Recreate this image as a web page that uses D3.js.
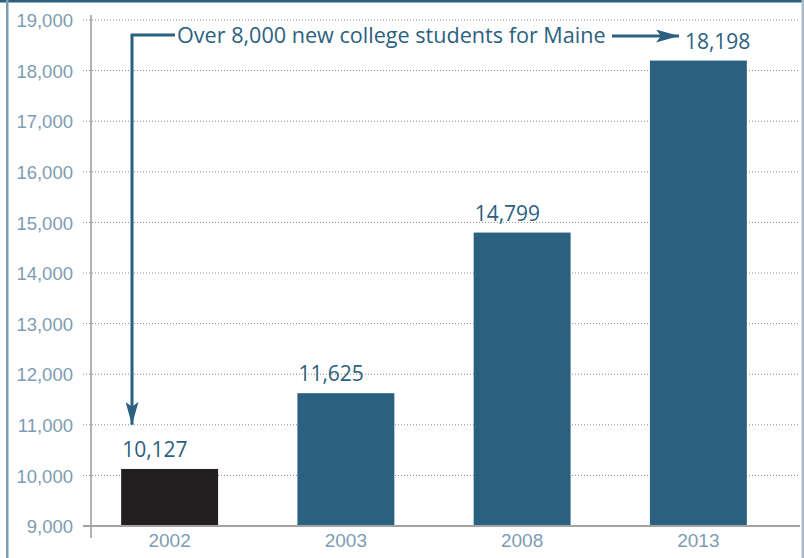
<!DOCTYPE html>
<html>
<head>
<meta charset="utf-8">
<script src="https://cdn.jsdelivr.net/npm/d3@7"></script>
<style>
  body { margin: 0; background: #fff; }
  svg { display: block; font-family: "Open Sans", "Noto Sans", sans-serif; }
</style>
</head>
<body>
<svg id="chart" width="804" height="558"></svg>
<script>
const years = ["2002", "2003", "2008", "2013"];
const students = [10127, 11625, 14799, 18198];
const yTicks = [9000, 10000, 11000, 12000, 13000, 14000, 15000, 16000, 17000, 18000, 19000];
const note = "Over 8,000 new college students for Maine";

const svg = d3.select("#chart");
const width = 804;
const height = 558;
const blue = "#2b6180";
const tickBlue = "#7d9cb3";

const x = d3.scaleBand().domain(years).range([81.5, 786.5]).paddingInner(0.45).paddingOuter(0.225);
const y = d3.scaleLinear().domain([9000, 19000]).range([526, 20]);

// frame
svg.append("rect").attr("x", 0).attr("y", 0).attr("width", width).attr("height", 2.5).attr("fill", blue);
svg.append("rect").attr("x", 6).attr("y", 0).attr("width", 2.5).attr("height", height).attr("fill", "#7d9bb2");
svg.append("rect").attr("x", 801.5).attr("y", 0).attr("width", 2.5).attr("height", height).attr("fill", "#a9bccb");

// gridlines
svg.append("g")
  .selectAll("line")
  .data(yTicks.filter((d) => d > 9000))
  .join("line")
  .attr("x1", 83)
  .attr("x2", 800)
  .attr("y1", (d) => y(d))
  .attr("y2", (d) => y(d))
  .attr("stroke", "#8a8a8a")
  .attr("stroke-width", 1)
  .attr("stroke-dasharray", "1,2");

// y axis
const yAxis = svg.append("g")
  .attr("transform", "translate(83,0)")
  .call(d3.axisLeft(y).tickValues(yTicks).tickFormat(d3.format(",")).tickSize(0).tickPadding(10));
yAxis.select(".domain").remove();
yAxis.selectAll("text")
  .attr("fill", tickBlue)
  .attr("font-size", 18.5)
  .attr("dy", "0.36em");

svg.append("line")
  .attr("x1", 91).attr("x2", 91).attr("y1", 15).attr("y2", 538)
  .attr("stroke", "#9a9a9a").attr("stroke-width", 1.5);

// bars
svg.append("g")
  .selectAll("rect")
  .data(students)
  .join("rect")
  .attr("x", (d, i) => x(years[i]))
  .attr("width", x.bandwidth())
  .attr("y", (d) => y(d))
  .attr("height", (d) => y(9000) - y(d))
  .attr("fill", (d, i) => (i === 0 ? "#231f20" : blue));

// baseline
svg.append("line")
  .attr("x1", 83).attr("x2", 800).attr("y1", y(9000)).attr("y2", y(9000))
  .attr("stroke", "#a3a3a3").attr("stroke-width", 2);

// x labels
const xAxis = svg.append("g")
  .attr("transform", `translate(0,${y(9000)})`)
  .call(d3.axisBottom(x).tickSize(0).tickPadding(8));
xAxis.select(".domain").remove();
xAxis.selectAll("text").attr("fill", tickBlue).attr("font-size", 19);

// value labels (last one sits after the annotation arrow)
svg.append("g")
  .selectAll("text")
  .data(students)
  .join("text")
  .attr("x", (d, i) => x(years[i]) + (i === years.length - 1 ? 35 : 1))
  .attr("y", (d) => y(d) - 12)
  .attr("fill", blue)
  .attr("font-size", 21)
  .text((d) => d3.format(",")(d));

// annotation
const noteY = 35;
const arrowX = 132;
svg.append("defs").append("marker")
  .attr("id", "head")
  .attr("viewBox", "0 0 23 13")
  .attr("refX", 23).attr("refY", 6.5)
  .attr("markerWidth", 23).attr("markerHeight", 13)
  .attr("markerUnits", "userSpaceOnUse")
  .attr("orient", "auto")
  .append("path")
  .attr("d", "M0,0 L23,6.5 L0,13 L5,6.5 Z")
  .attr("fill", blue);

svg.append("path")
  .attr("d", `M175,${noteY} H${arrowX} V${y(11000)}`)
  .attr("fill", "none")
  .attr("stroke", blue)
  .attr("stroke-width", 3)
  .attr("marker-end", "url(#head)");

svg.append("text")
  .attr("x", 177)
  .attr("y", noteY + 7.5)
  .attr("fill", blue)
  .attr("font-size", 21.6)
  .text(note);

svg.append("line")
  .attr("x1", 612).attr("x2", 679).attr("y1", noteY + 1).attr("y2", noteY + 1)
  .attr("stroke", blue)
  .attr("stroke-width", 3)
  .attr("marker-end", "url(#head)");
</script>
</body>
</html>
